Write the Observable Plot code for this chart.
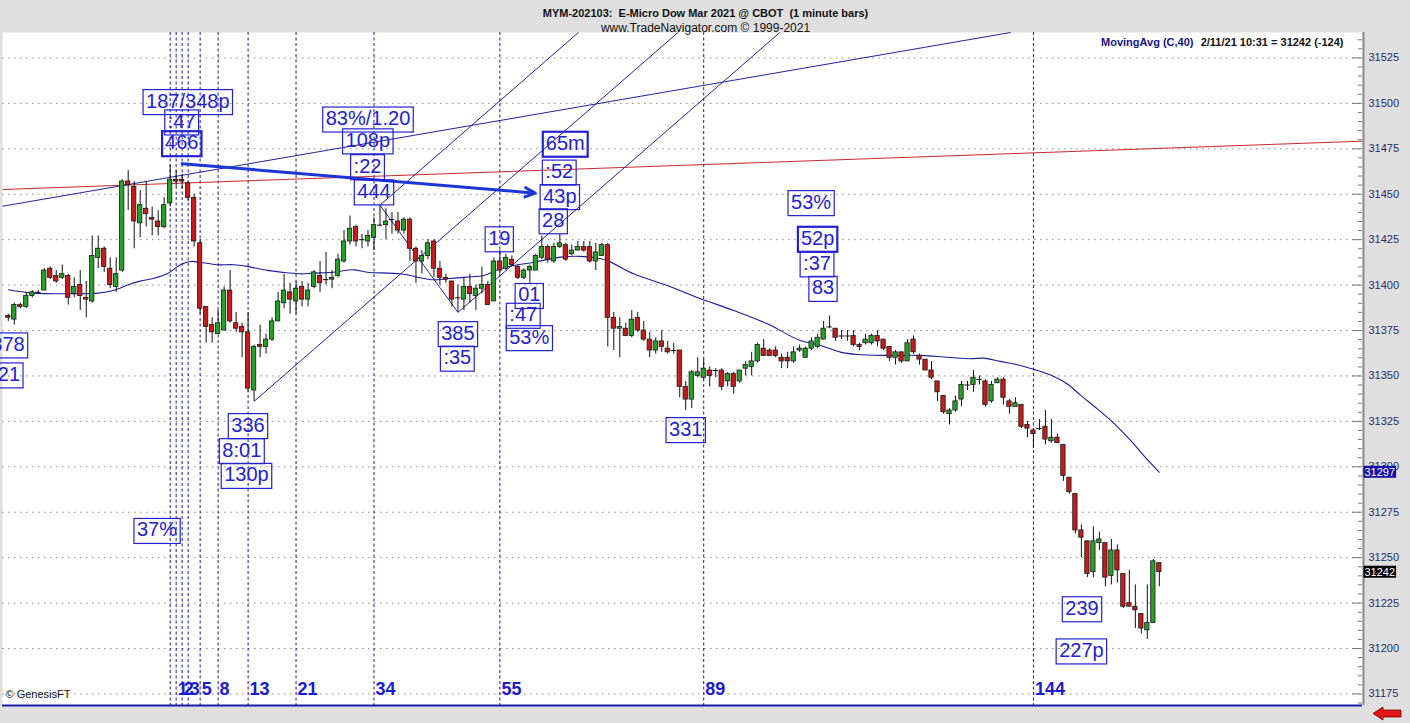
<!DOCTYPE html>
<html><head><meta charset="utf-8">
<script src="https://cdn.jsdelivr.net/npm/d3@7"></script>
<script src="https://cdn.jsdelivr.net/npm/@observablehq/plot@0.6"></script>
<style>html,body{margin:0;padding:0;background:#dfdfdf;overflow:hidden} svg{display:block}</style>
</head><body><div id="chart"></div><script>
// ---- OHLC data, 1-minute bars (bar index 0..192) ----
const opens = [31383,31381,31389,31388,31394,31396,31397,31409,31405,31404,
31405,31395,31400,31393,31391,31415,31420,31409,31399,31408,
31457,31454,31434,31442,31437,31435,31432,31445,31458,31458,
31456,31448,31423,31388,31378,31373,31375,31397,31379,31377,
31374,31342,31367,31366,31370,31380,31390,31396,31391,31399,
31392,31399,31405,31403,31403,31405,31413,31424,31432,31425,
31424,31426,31433,31433,31436,31435,31430,31436,31420,31413,
31416,31424,31409,31404,31402,31393,31392,31399,31394,31398,
31400,31391,31413,31409,31414,31410,31404,31408,31408,31415,
31421,31413,31421,31422,31417,31419,31421,31421,31413,31416,
31422,31382,31376,31376,31372,31382,31375,31370,31364,31369,
31365,31364,31364,31344,31337,31350,31349,31353,31353,31353,
31347,31351,31347,31354,31355,31358,31365,31364,31364,31360,
31360,31358,31364,31360,31365,31366,31370,31377,31376,31372,
31372,31372,31367,31368,31368,31372,31370,31366,31360,31363,
31358,31370,31361,31359,31353,31347,31339,31329,31331,31337,
31345,31345,31348,31347,31336,31346,31348,31336,31333,31334,
31323,31320,31321,31322,31314,31316,31312,31294,31285,31265,
31259,31242,31258,31258,31240,31254,31241,31225,31223,31219,
31210,31214,31247];
const highs = [31384,31390,31390,31396,31397,31397,31409,31410,31408,31411,
31406,31404,31408,31402,31427,31427,31421,31415,31415,31458,
31463,31457,31452,31457,31443,31441,31448,31466,31463,31461,
31457,31450,31425,31388,31382,31386,31399,31408,31385,31379,
31385,31367,31378,31373,31382,31396,31406,31401,31402,31402,
31401,31408,31413,31418,31408,31417,31430,31438,31433,31428,
31430,31437,31444,31442,31440,31440,31437,31437,31421,31419,
31425,31425,31413,31406,31402,31400,31404,31406,31400,31410,
31402,31415,31419,31417,31416,31411,31409,31411,31417,31427,
31422,31423,31428,31423,31422,31424,31424,31424,31423,31423,
31423,31385,31382,31379,31386,31385,31380,31374,31371,31375,
31369,31368,31364,31347,31353,31360,31359,31355,31354,31354,
31352,31352,31353,31358,31363,31368,31370,31365,31366,31362,
31363,31366,31367,31366,31371,31373,31380,31383,31376,31375,
31375,31375,31368,31373,31373,31375,31370,31366,31364,31363,
31370,31372,31362,31359,31358,31347,31339,31332,31339,31347,
31347,31353,31350,31348,31347,31349,31349,31337,31338,31334,
31325,31321,31326,31331,31326,31318,31312,31294,31285,31268,
31259,31267,31264,31258,31260,31257,31241,31243,31235,31219,
31235,31249,31247];
const lows = [31380,31378,31387,31387,31393,31395,31397,31403,31401,31403,
31389,31393,31386,31382,31390,31409,31407,31398,31396,31407,
31441,31420,31426,31432,31427,31427,31431,31443,31454,31453,
31446,31421,31384,31368,31368,31373,31375,31379,31374,31360,
31341,31336,31360,31362,31369,31380,31387,31384,31384,31388,
31388,31398,31396,31400,31398,31404,31412,31422,31421,31420,
31421,31419,31432,31425,31428,31428,31428,31413,31401,31406,
31414,31404,31400,31401,31388,31385,31386,31390,31386,31395,
31389,31391,31406,31408,31410,31403,31403,31401,31408,31414,
31412,31412,31420,31413,31416,31419,31418,31412,31408,31416,
31366,31364,31360,31372,31371,31374,31369,31360,31362,31363,
31362,31362,31338,31331,31332,31349,31348,31344,31349,31342,
31344,31340,31346,31350,31350,31357,31361,31361,31360,31354,
31354,31357,31363,31360,31364,31365,31370,31376,31369,31370,
31369,31366,31364,31367,31367,31366,31364,31358,31356,31357,
31358,31362,31356,31353,31348,31336,31329,31323,31330,31333,
31342,31341,31345,31333,31335,31346,31334,31329,31333,31321,
31316,31310,31320,31312,31313,31313,31292,31285,31263,31250,
31239,31239,31254,31234,31235,31236,31222,31223,31211,31208,
31205,31214,31234];
const closes = [31382,31389,31388,31394,31396,31396,31408,31404,31402,31406,
31393,31399,31394,31392,31416,31420,31410,31400,31406,31457,
31455,31435,31444,31439,31436,31432,31444,31458,31457,31457,
31448,31424,31387,31377,31374,31379,31397,31380,31376,31374,
31343,31366,31366,31370,31380,31391,31397,31392,31398,31392,
31397,31407,31401,31403,31404,31414,31424,31431,31424,31425,
31427,31433,31433,31435,31436,31430,31436,31420,31413,31416,
31423,31409,31404,31403,31392,31393,31399,31395,31398,31400,
31389,31413,31408,31415,31411,31404,31408,31410,31416,31421,
31414,31421,31423,31414,31419,31421,31419,31413,31418,31422,
31382,31376,31377,31372,31381,31375,31370,31364,31369,31366,
31363,31364,31344,31337,31352,31352,31354,31350,31353,31344,
31351,31344,31353,31356,31358,31367,31361,31361,31361,31358,
31358,31363,31365,31365,31369,31371,31376,31377,31371,31372,
31372,31367,31366,31370,31372,31369,31365,31360,31363,31358,
31368,31363,31359,31353,31349,31341,31330,31331,31336,31345,
31345,31349,31348,31334,31345,31348,31338,31333,31335,31322,
31321,31318,31321,31315,31316,31313,31295,31286,31265,31261,
31241,31259,31260,31239,31254,31243,31223,31223,31221,31211,
31214,31248,31242];

// ---- MovingAvg (C,40) ----
const maBar = [0,4,10,15,17.5,20,22,24,26.5,28.7,30.4,32,34.8,37.6,39.8,43.2,46.5,48.7,50.9,54.2,57.6,59.9,65.4,70.9,73.2,76.5,79.3,82.1,84.3,87.7,92.1,95.4,98.8,99.9,104.3,109.9,115.5,121,126.6,132.1,135.5,138.8,141.6,146.6,152.2,156.6,160.5,162.7,165.5,168.8,171.1,174.4,176.6,178.9,181.6,183.9,187.2,189.4,192];
const maVal = [31397.4,31395.6,31395.2,31395.6,31397.0,31400.2,31402.2,31403.5,31406.2,31411.2,31413.0,31412.6,31411.2,31411.2,31410.3,31408.1,31406.8,31406.2,31406.6,31407.1,31408.4,31407.1,31406.2,31402.9,31403.5,31404.4,31405.3,31409.0,31410.8,31412.6,31415.4,31415.8,31414.5,31413.6,31406.2,31399.8,31392.5,31386.0,31378.7,31369.5,31366.8,31363.1,31361.8,31361.3,31361.3,31360.3,31359.5,31359.8,31358.0,31355.8,31353.6,31349.7,31345.7,31339.3,31332.0,31325.5,31314.5,31306.2,31297];

// ---- Axis ----
const xMin = -0.9675, xMax = 225.89;
const yLo = 31168.65, yHi = 31539.0;
const yTicks = [31175,31200,31225,31250,31275,31300,31325,31350,31375,31400,31425,31450,31475,31500,31525];
const yMinorTicks = d3.range(31170, 31540, 5).filter(v => v % 25 !== 0);

// ---- Fibonacci time lines ----
const fibStart = 27;
const fibCounts = [0,1,2,3,5,8,13,21,34,55,89,144];

// ---- Trend lines (bar, price) ----
const lineX1 = [-0.9675, -0.9675, 41, 62, 75, 62];
const lineY1 = [31452.6, 31443.4, 31336, 31444, 31385, 31444];
const lineX2 = [225.89, 167.2, 111.7, 95.1, 128.7, 75];
const lineY2 = [31479.2, 31539, 31539, 31539, 31539, 31385];
const lineColor = ["#c8282a", "#2222a0", "#2222a0", "#2222a0", "#2222a0", "#2222a0"];
const arrowX1 = [29.0], arrowY1 = [31466.8], arrowX2 = [87.9], arrowY2 = [31450.6];

// ---- Annotation boxes ----
const noteText = ["187/348p", ":47", "466", "83%/1.20", "108p", ":22", "444", "65m", ":52", "43p", "28", "19", "01", ":47", "53%", "385", ":35", "331", "53%", "52p", ":37", "83", "336", "8:01", "130p", "378", "321", "37%", "239", "227p"];
const noteBar = [29.94, 28.92, 28.94, 60.0, 59.97, 59.92, 61.0, 92.9, 91.9, 92.0, 90.9, 81.9, 86.9, 85.9, 86.9, 75.0, 74.9, 113.0, 133.9, 135.0, 134.9, 135.9, 39.98, 38.95, 39.73, -0.05, -0.83, 24.8, 179.1, 179.0];
const notePrice = [31501.2, 31490.0, 31478.3, 31491.6, 31479.6, 31465.4, 31451.5, 31478.0, 31462.4, 31448.9, 31435.6, 31425.7, 31394.5, 31383.6, 31371.3, 31373.5, 31360.0, 31320.7, 31445.6, 31425.7, 31411.9, 31398.4, 31322.9, 31309.1, 31295.5, 31367.3, 31350.8, 31265.2, 31222.1, 31198.9];
const noteThick = [0,0,1,0,0,0,0,1,0,0,0,0,0,0,0,0,0,0,0,1,0,0,0,0,0,0,0,0,0,0];

// ---- Price tags ----
const tagValues = [31297, 31242];
const tagFill = ["#1212a6", "#000000"];

const titleLine1 = "MYM-202103:\u00a0 E-Micro Dow Mar 2021 @ CBOT\u00a0 (1 minute bars)";
const titleLine2 = "www.TradeNavigator.com © 1999-2021";
const maLabel = "MovingAvg (C,40)";
const lastLabel = "2/11/21 10:31 = 31242 (-124)";
const footer = "© GenesisFT";

// ---- build tables ----
const bars = opens.map((o, i) => ({i, open: o, high: highs[i], low: lows[i], close: closes[i]}));
const upBars = bars.filter(d => d.close > d.open);
const downBars = bars.filter(d => d.close < d.open);
const dojiBars = bars.filter(d => d.close === d.open);
const ma = maBar.map((b, i) => ({bar: b, v: maVal[i]}));
const fibs = fibCounts.map(c => ({bar: fibStart + c, label: c === 0 ? "" : String(c)}));
const tlines = lineX1.map((x, i) => ({x1: x, y1: lineY1[i], x2: lineX2[i], y2: lineY2[i], c: lineColor[i]}));
const arrows = arrowX1.map((x, i) => ({x1: x, y1: arrowY1[i], x2: arrowX2[i], y2: arrowY2[i]}));
const notes = noteText.map((t, i) => ({t, bar: noteBar[i], price: notePrice[i]}));

const NOTE_BLUE = "#2222d4";
const FONT = "'Liberation Sans', Arial, sans-serif";

const svgEl = Plot.plot({
  width: 1410, height: 723,
  marginTop: 32, marginBottom: 18, marginLeft: 2, marginRight: 48,
  style: {background: "#dfdfdf", fontFamily: FONT, fontSize: "11px", color: "#2b2b6b"},
  x: {type: "linear", domain: [xMin, xMax], axis: null},
  y: {type: "linear", domain: [yLo, yHi], axis: "right", ticks: yTicks, tickSize: 0, tickPadding: 6, tickFormat: d => String(d), label: null},
  marks: [
    Plot.frame({fill: "white", stroke: "none"}),
    Plot.ruleY(yTicks, {y: d => d, stroke: "#8a8a8a", strokeDasharray: "1.5,4.5"}),
    Plot.ruleX(fibs, {x: "bar", stroke: "#1a1a8c", strokeDasharray: "3,2.5"}),
    Plot.link(tlines, {x1: "x1", y1: "y1", x2: "x2", y2: "y2", stroke: d => d.c, strokeWidth: 1}),
    Plot.line(ma, {x: "bar", y: "v", stroke: "#1c1c9c", strokeWidth: 1.1, curve: "catmull-rom"}),
    Plot.ruleX(bars, {x: "i", y1: "low", y2: "high", stroke: "#111", strokeWidth: 1}),
    Plot.rect(upBars, {x1: d => d.i - 0.36, x2: d => d.i + 0.36, y1: "open", y2: "close", fill: "#2a9e2a", stroke: "#1a1a1a", strokeWidth: 0.8}),
    Plot.rect(downBars, {x1: d => d.i - 0.36, x2: d => d.i + 0.36, y1: "open", y2: "close", fill: "#c21c1c", stroke: "#1a1a1a", strokeWidth: 0.8}),
    Plot.ruleY(dojiBars, {y: "close", x1: d => d.i - 0.45, x2: d => d.i + 0.45, stroke: "#111", strokeWidth: 1}),
    Plot.arrow(arrows, {x1: "x1", y1: "y1", x2: "x2", y2: "y2", stroke: "#1d36d6", strokeWidth: 3, headLength: 5.5, headAngle: 50}),
    Plot.text(notes, {x: "bar", y: "price", text: "t", fill: NOTE_BLUE, fontSize: 20, ariaDescription: "notes"}),
    Plot.text(fibs, {x: "bar", text: "label", frameAnchor: "bottom", dy: -11, dx: 1.5, textAnchor: "start", fontSize: 18, fontWeight: "bold", fill: "#1a1ad2"}),
    Plot.ruleY(yTicks, {y: d => d, x1: xMax - 1.67, x2: xMax, stroke: "#777"}),
    Plot.ruleY(yMinorTicks, {y: d => d, x1: xMax - 0.7, x2: xMax, stroke: "#777"}),
    Plot.ruleX([xMax], {x: d => d, stroke: "#8a8a8a", strokeWidth: 2, dx: 1}),
    Plot.ruleY([yLo], {y: d => d, stroke: "#1a1aa8", strokeWidth: 2}),
    Plot.text(tagValues, {y: d => d, text: d => String(d), frameAnchor: "right", dx: 2, textAnchor: "start", fill: "white", fontSize: 11, ariaDescription: "tags"}),
    Plot.text([titleLine1], {text: d => d, frameAnchor: "top", dx: 23, dy: -23, fontWeight: "bold", fontSize: 11, fill: "#111"}),
    Plot.text([titleLine2], {text: d => d, frameAnchor: "top", dx: 23, dy: -9, fontSize: 12, fill: "#111"}),
    Plot.text([maLabel], {text: d => d, frameAnchor: "top-right", dx: -169, dy: 6, textAnchor: "end", fontWeight: "bold", fontSize: 11, fill: "#14148a"}),
    Plot.text([lastLabel], {text: d => d, frameAnchor: "top-right", dx: -19, dy: 6, textAnchor: "end", fontWeight: "bold", fontSize: 11, fill: "#111"}),
    Plot.text([footer], {text: d => d, frameAnchor: "bottom-left", dx: 3, dy: -8, textAnchor: "start", fontSize: 11, fill: "#111"})
  ]
});
document.getElementById("chart").appendChild(svgEl);

// boxes around annotation text and price tags
const NS = "http://www.w3.org/2000/svg";
function textGroup(desc, order) {
  let g = svgEl.querySelector(`g[aria-description="${desc}"]`);
  if (!g) {
    const groups = Array.from(svgEl.querySelectorAll('g[aria-label="text"]'));
    g = groups[order];
  }
  return g;
}
function boxify(desc, order, styler) {
  const g = textGroup(desc, order);
  if (!g) return;
  Array.from(g.querySelectorAll("text")).forEach((t, j) => {
    const bb = t.getBBox();
    const r = document.createElementNS(NS, "rect");
    const tr = t.getAttribute("transform");
    if (tr) r.setAttribute("transform", tr);
    styler(r, bb, j);
    t.parentNode.insertBefore(r, t);
  });
}
boxify("notes", 0, (r, bb, j) => {
  r.setAttribute("x", bb.x - 3);
  r.setAttribute("y", bb.y);
  r.setAttribute("width", bb.width + 6);
  r.setAttribute("height", bb.height + 3);
  r.setAttribute("fill", "none");
  r.setAttribute("stroke", NOTE_BLUE);
  r.setAttribute("stroke-width", noteThick[j] ? 2.2 : 1.2);
});
boxify("tags", 2, (r, bb, j) => {
  r.setAttribute("x", bb.x - 1);
  r.setAttribute("y", bb.y);
  r.setAttribute("width", bb.width + 2);
  r.setAttribute("height", bb.height);
  r.setAttribute("fill", tagFill[j]);
});

// red navigation arrow (decoration, bottom right)
d3.select(svgEl).append("path")
  .attr("d", "M1373,713.5 L1383,707 L1383,710 L1401,710 L1401,717 L1383,717 L1383,720 Z")
  .attr("fill", "#e01414").attr("stroke", "#7a0000").attr("stroke-width", 0.8);
</script></body></html>
